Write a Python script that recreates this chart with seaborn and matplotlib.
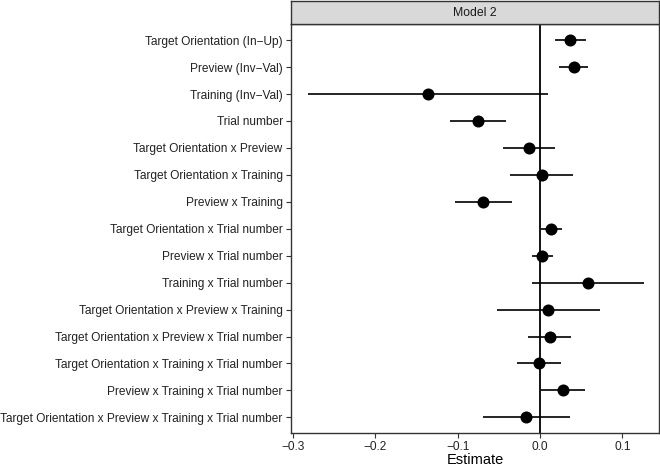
import numpy as np
import pandas as pd
import matplotlib
matplotlib.use("Agg")
import matplotlib.pyplot as plt
import seaborn as sns

# ---------------------------------------------------------------------------
# Data
# ---------------------------------------------------------------------------

terms = [
    "Target Orientation (In\u2212Up)",
    "Preview (Inv\u2212Val)",
    "Training (Inv\u2212Val)",
    "Trial number",
    "Target Orientation x Preview",
    "Target Orientation x Training",
    "Preview x Training",
    "Target Orientation x Trial number",
    "Preview x Trial number",
    "Training x Trial number",
    "Target Orientation x Preview x Training",
    "Target Orientation x Preview x Trial number",
    "Target Orientation x Training x Trial number",
    "Preview x Training x Trial number",
    "Target Orientation x Preview x Training x Trial number",
]
estimate = [0.0365, 0.041, -0.1365, -0.0753, -0.0134, 0.002, -0.0689, 0.0134,
            0.0028, 0.0583, 0.0101, 0.0122, -0.0016, 0.028, -0.0166]
ci_low = [0.018, 0.0235, -0.2815, -0.109, -0.0446, -0.036, -0.1033, 0.0008,
          -0.0097, -0.0093, -0.0527, -0.0142, -0.0283, 0.0008, -0.069]
ci_high = [0.0555, 0.0587, 0.0093, -0.0417, 0.0182, 0.0397, -0.034, 0.027,
           0.016, 0.126, 0.0733, 0.038, 0.026, 0.0543, 0.0365]
x_ticks = [-0.3, -0.2, -0.1, 0.0, 0.1]
panel_title = "Model 2"

df = pd.DataFrame({
    "term": terms,
    "estimate": estimate,
    "low": ci_low,
    "high": ci_high,
})
df["pos"] = np.arange(len(df))

# ---------------------------------------------------------------------------
# Plot
# ---------------------------------------------------------------------------

sns.set_style("white")
plt.rcParams["font.family"] = ["Liberation Sans", "DejaVu Sans"]

fig = plt.figure(figsize=(6.6, 4.66), dpi=100)
ax = fig.add_axes([0.441, 0.0708, 0.5575, 0.8777])

ax.axvline(0, color="black", linewidth=1.3, zorder=1)
ax.hlines(df["pos"], df["low"], df["high"], color="black", linewidth=1.2, zorder=2)
sns.scatterplot(data=df, x="estimate", y="pos", color="black", s=75,
                edgecolor="black", linewidth=0, ax=ax, zorder=3)

ax.set_ylim(14.58, -0.6)
ax.set_xlim(-0.3026, 0.1446)
ax.set_yticks(df["pos"])
ax.set_yticklabels(df["term"])
ax.set_xticks(x_ticks)
ax.set_xticklabels([f"{t:.1f}".replace("-", "\u2212") for t in x_ticks])
ax.set_xlabel("Estimate", fontsize=10.5, color="black", labelpad=0)
ax.set_ylabel("")

ax.tick_params(axis="both", which="both", length=3.5, width=0.8, color="#333333",
               labelsize=8.6, labelcolor="#222222", pad=2.5)
ax.tick_params(axis="x", bottom=True)
ax.tick_params(axis="y", left=True)
for side in ax.spines.values():
    side.set_visible(True)
    side.set_color("#333333")
    side.set_linewidth(1.0)

# facet strip on top
strip = fig.add_axes([0.441, 0.9485, 0.5575, 0.0485])
strip.set_facecolor("#D9D9D9")
strip.set_xticks([])
strip.set_yticks([])
for side in strip.spines.values():
    side.set_color("#333333")
    side.set_linewidth(1.0)
strip.text(0.5, 0.5, panel_title, ha="center", va="center", fontsize=8.8,
           color="#1A1A1A", transform=strip.transAxes)

fig.savefig("out.png", dpi=100)
